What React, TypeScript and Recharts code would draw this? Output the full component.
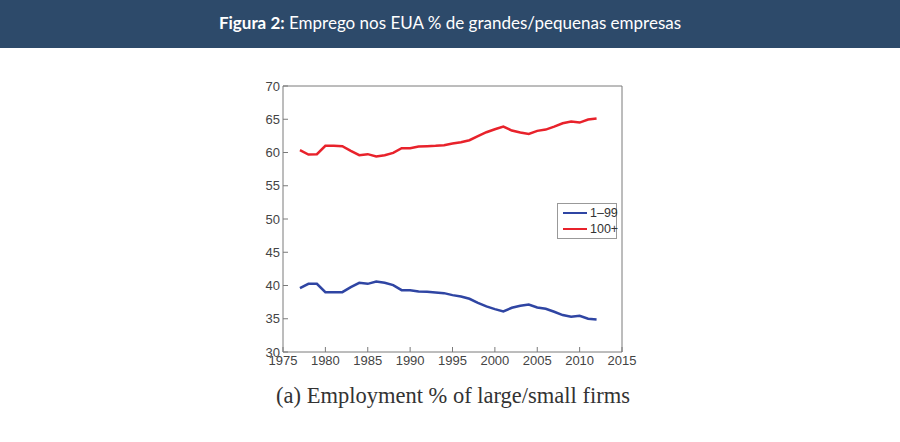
import React from "react";
import { LineChart, Line, XAxis, YAxis, Legend } from "recharts";

const years = [
  1977, 1978, 1979, 1980, 1981, 1982, 1983, 1984, 1985, 1986, 1987, 1988,
  1989, 1990, 1991, 1992, 1993, 1994, 1995, 1996, 1997, 1998, 1999, 2000,
  2001, 2002, 2003, 2004, 2005, 2006, 2007, 2008, 2009, 2010, 2011, 2012,
];

// share of employment in firms with 1-99 employees
const small = [
  39.6, 40.25, 40.25, 39.0, 39.0, 39.0, 39.75, 40.4, 40.25, 40.6, 40.4, 40.05,
  39.3, 39.3, 39.1, 39.05, 38.95, 38.85, 38.55, 38.35, 38.0, 37.4, 36.85, 36.45,
  36.1, 36.65, 36.95, 37.15, 36.7, 36.5, 36.05, 35.55, 35.3, 35.45, 35.0, 34.9,
];

// share of employment in firms with 100+ employees
const large = [
  60.35, 59.7, 59.75, 61.0, 61.0, 60.95, 60.25, 59.6, 59.75, 59.4, 59.6, 59.95,
  60.65, 60.65, 60.9, 60.95, 61.0, 61.1, 61.35, 61.55, 61.85, 62.45, 63.05, 63.5,
  63.9, 63.3, 63.0, 62.8, 63.25, 63.45, 63.9, 64.4, 64.65, 64.5, 64.95, 65.1,
];

const xTicks = [1975, 1980, 1985, 1990, 1995, 2000, 2005, 2010, 2015];
const yTicks = [30, 35, 40, 45, 50, 55, 60, 65, 70];

const data = years.map((year, i) => ({ year, small: small[i], large: large[i] }));

const BLUE = "#2f45a3";
const RED = "#e8222b";
const AXIS = "#7a7a7a";
const tickStyle = { fill: "#444", fontSize: 13, fontFamily: "'Liberation Sans', Arial, sans-serif" };

function LegendBox() {
  const rows = [
    { label: "1\u201399", color: BLUE },
    { label: "100+", color: RED },
  ];
  return (
    <div
      style={{
        border: "1px solid #999",
        background: "#fff",
        width: 60,
        boxSizing: "border-box",
        padding: "1px 0",
        fontFamily: "'Liberation Sans', Arial, sans-serif",
        fontSize: 12.5,
        color: "#333",
        whiteSpace: "nowrap",
        textAlign: "left",
      }}
    >
      {rows.map((r) => (
        <div key={r.label} style={{ display: "flex", alignItems: "center", height: 16 }}>
          <div style={{ width: 24, height: 2.5, background: r.color, marginLeft: 5, marginRight: 3, flexShrink: 0 }} />
          <span>{r.label}</span>
        </div>
      ))}
    </div>
  );
}

export default function App() {
  return (
    <div style={{ position: "relative", width: 900, height: 442, background: "#fff", overflow: "hidden" }}>
      <style>{"body{margin:0}"}</style>
      <div
        style={{
          position: "absolute",
          left: 0,
          top: 0,
          width: 900,
          height: 48,
          background: "#2d4a6a",
          color: "#fff",
          fontFamily: "Lato, 'Open Sans', sans-serif",
          fontSize: 17,
          lineHeight: "45px",
          textAlign: "center",
        }}
      >
        <b>Figura 2:</b> Emprego nos EUA % de grandes/pequenas empresas
      </div>
      <div style={{ position: "absolute", left: 0, top: 0 }}>
        <LineChart width={900} height={442} data={data} margin={{ top: 76, right: 268, bottom: 60, left: 243 }}>
          <XAxis
            dataKey="year"
            type="number"
            domain={[1975, 2015]}
            ticks={xTicks}
            interval={0}
            stroke={AXIS}
            tickSize={-5}
            tickMargin={9}
            height={30}
            tick={tickStyle}
          />
          <XAxis
            xAxisId="top"
            orientation="top"
            dataKey="year"
            type="number"
            domain={[1975, 2015]}
            ticks={xTicks}
            interval={0}
            stroke={AXIS}
            tickSize={-5}
            height={10}
            tick={false}
          />
          <YAxis
            type="number"
            domain={[30, 70]}
            ticks={yTicks}
            interval={0}
            stroke={AXIS}
            tickSize={-5}
            tickMargin={8}
            width={40}
            tick={tickStyle}
          />
          <YAxis
            yAxisId="right"
            orientation="right"
            type="number"
            domain={[30, 70]}
            ticks={yTicks}
            interval={0}
            stroke={AXIS}
            tickSize={-5}
            width={10}
            tick={false}
          />
          <Line dataKey="small" name="1-99" stroke={BLUE} strokeWidth={2.5} dot={false} isAnimationActive={false} />
          <Line dataKey="large" name="100+" stroke={RED} strokeWidth={2.5} dot={false} isAnimationActive={false} />
          <Legend
            layout="horizontal"
            verticalAlign="middle"
            align="center"
            content={() => <LegendBox />}
            wrapperStyle={{ position: "absolute", left: 557, top: 203, width: 60, height: 34 }}
          />
        </LineChart>
      </div>
      <div
        style={{
          position: "absolute",
          left: 0,
          width: 906,
          top: 383,
          textAlign: "center",
          fontFamily: "'Liberation Serif', 'DejaVu Serif', serif",
          fontSize: 22.5,
          color: "#333",
        }}
      >
        (a) Employment % of large/small firms
      </div>
    </div>
  );
}
